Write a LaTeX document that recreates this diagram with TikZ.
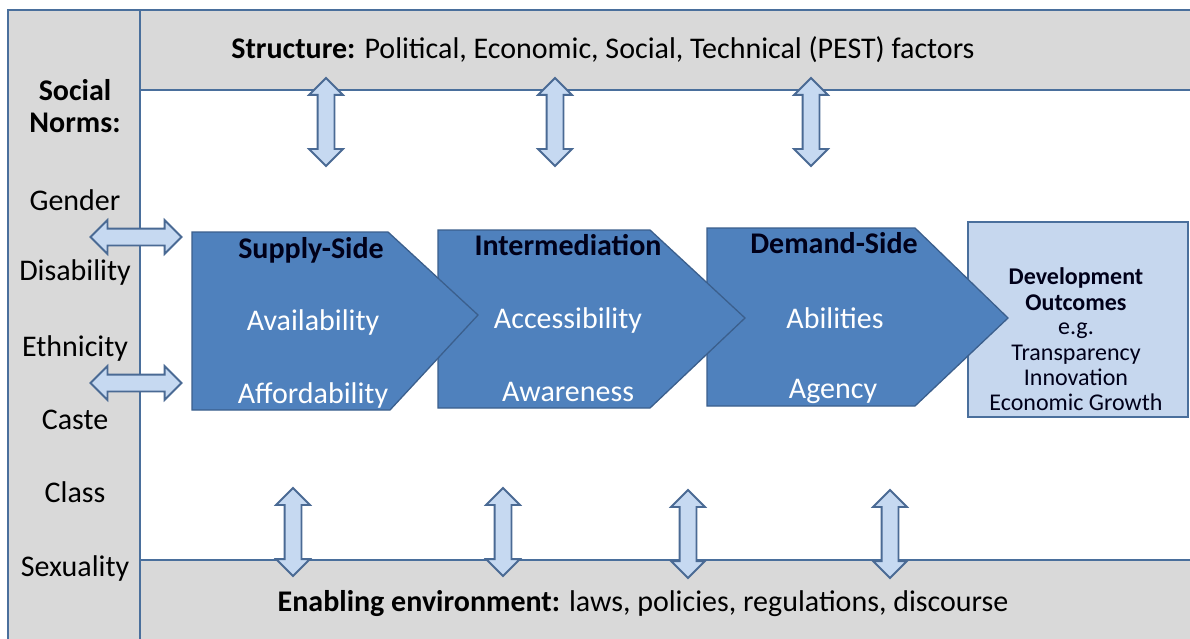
\documentclass[tikz,border=0pt]{standalone}
\usepackage{fontspec}
\setmainfont{Carlito}
\usetikzlibrary{shapes.arrows}

\definecolor{panelgray}{HTML}{D9D9D9}
\definecolor{framebl}{HTML}{4A6F9C}
\definecolor{stagebl}{HTML}{4F81BD}
\definecolor{stageln}{HTML}{3B5F8D}
\definecolor{arrowbl}{HTML}{C6D9F1}
\definecolor{arrowln}{HTML}{4A6A94}
\definecolor{outcomebl}{HTML}{C6D7EE}

\tikzset{
  panel/.style={fill=panelgray,draw=framebl,line width=1.5pt},
  stage/.style={fill=stagebl,draw=stageln,line width=1.3pt},
  dblarrow/.style={double arrow,draw=arrowln,fill=arrowbl,line width=1.8pt,
    inner xsep=0pt,inner ysep=7.5pt,minimum height=88pt,
    double arrow head extend=8.5pt,double arrow tip angle=90},
  big/.style={font=\fontsize{30}{32}\selectfont},
  title/.style={font=\fontsize{30}{32}\selectfont\bfseries,text=black!90!blue},
  item/.style={font=\fontsize{30}{32}\selectfont,text=white},
}

\begin{document}
\begin{tikzpicture}[x=1pt,y=-1pt]

      \useasboundingbox (0,0) rectangle (1190,639);
      \clip (0,0) rectangle (1190,639);
      \fill[white] (0,0) rectangle (1190,639);

      % frame panels
      \draw[panel] (8,10) rectangle (140,660);
      \draw[panel] (140,10) rectangle (1200,90);
      \draw[panel] (140,560) rectangle (1200,660);

      \node[big] (pest) at (603,50) {\textbf{Structure:} Political, Economic, Social, Technical (PEST) factors};
      \node[big] (enabling) at (643,604) {\textbf{Enabling environment:} laws, policies, regulations, discourse};

      \begin{scope}[every node/.style={big}]
        \node[align=center,font=\fontsize{30}{32}\selectfont\bfseries] (norms) at (75,106) {Social\\Norms:};
        \node (gender)    at (75,200) {Gender};
        \node (disab)     at (75,272) {Disability};
        \node (ethnic)    at (75,348) {Ethnicity};
        \node (caste)     at (75,420) {Caste};
        \node (class)     at (75,492) {Class};
        \node (sexual)    at (75,568) {Sexuality};
      \end{scope}

      % outcome box and stages, last one first
      \draw[draw=framebl,line width=1.5pt,fill=outcomebl] (968,222) rectangle (1188,417);
      \node[align=center,font=\fontsize{24}{25}\selectfont,text=black!90!blue] (outcome) at (1076,339)
        {\textbf{Development}\\[1pt]\textbf{Outcomes}\\[-1pt]e.g.\\[1pt]Transparency\\Innovation\\Economic Growth};

      \draw[stage] (707,228) -- (915,228) -- (1008,318) -- (915,406) -- (707,406) -- cycle;
      \draw[stage] (438,230) -- (650,230) -- (745,318) -- (650,408) -- (438,408) -- cycle;
      \draw[stage] (192,232) -- (388,232) -- (478,315) -- (390,410) -- (192,410) -- cycle;

      \node[title] (supply)  at (311,250) {Supply-Side};
      \node[item]  (avail)   at (313,322) {Availability};
      \node[item]  (afford)  at (313,395) {Affordability};
      \node[title] (interm)  at (568,245) {Intermediation};
      \node[item]  (access)  at (568,320) {Accessibility};
      \node[item]  (aware)   at (568,392) {Awareness};
      \node[title] (demand)  at (834,243) {Demand-Side};
      \node[item]  (abil)    at (835,318) {Abilities};
      \node[item]  (agency)  at (833,391) {Agency};

      % two-way arrows
      \begin{scope}[every node/.style={dblarrow,rotate=90}]
        \node (up1)   at (326,122) {};
        \node (up2)   at (555,122) {};
        \node (up3)   at (811,122) {};
        \node (down1) at (293,532) {};
        \node (down2) at (503,532) {};
        \node (down3) at (688,534) {};
        \node (down4) at (890,534) {};
      \end{scope}
      \node[dblarrow,minimum height=91pt] (side1) at (136,237) {};
      \node[dblarrow,minimum height=91pt] (side2) at (136,383) {};

    \end{tikzpicture}
\end{document}
